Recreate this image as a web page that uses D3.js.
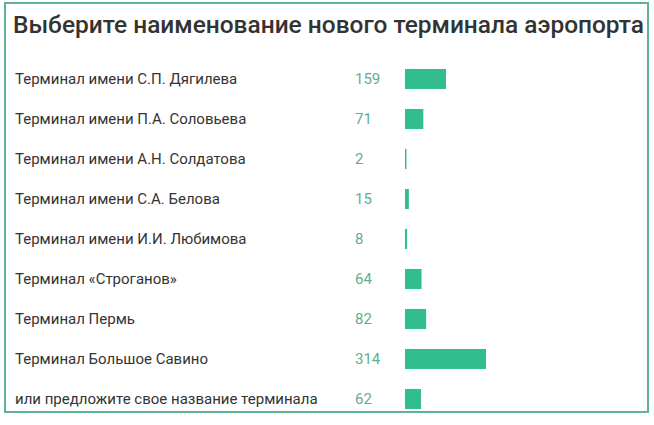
<!DOCTYPE html>
<html>
<head>
<meta charset="utf-8">
<script src="https://cdn.jsdelivr.net/npm/d3@7"></script>
<style>
  body { margin: 0; background: #fff; }
  text { font-family: Roboto, "Open Sans", sans-serif; }
</style>
</head>
<body>
<svg id="chart" width="654" height="425"></svg>
<script>
// chart data
const labels = [
  "Терминал имени С.П. Дягилева",
  "Терминал имени П.А. Соловьева",
  "Терминал имени А.Н. Солдатова",
  "Терминал имени С.А. Белова",
  "Терминал имени И.И. Любимова",
  "Терминал «Строганов»",
  "Терминал Пермь",
  "Терминал Большое Савино",
  "или предложите свое название терминала"
];
const votes = [159, 71, 2, 15, 8, 64, 82, 314, 62];
const title = "Выберите наименование нового терминала аэропорта";

const svg = d3.select("#chart");

svg.append("rect")
  .attr("x", 5).attr("y", 3).attr("width", 643).attr("height", 409)
  .attr("fill", "none").attr("stroke", "#5db394").attr("stroke-width", 2);

svg.append("text")
  .attr("x", 13).attr("y", 33)
  .attr("font-size", 24).attr("font-weight", 500).attr("fill", "#333")
  .attr("textLength", 631).attr("lengthAdjust", "spacingAndGlyphs")
  .text(title);

const y = d3.scaleBand().domain(labels).range([59, 419]).paddingInner(0.5).paddingOuter(0.25);
const x = d3.scaleLinear().domain([0, 314]).range([0, 81]);

const row = svg.selectAll("g.row").data(labels).join("g")
  .attr("class", "row")
  .attr("transform", d => `translate(0,${y(d)})`);

row.append("text")
  .attr("x", 15).attr("y", y.bandwidth() / 2).attr("dy", "0.35em")
  .attr("font-size", 15).attr("fill", "#333")
  .text(d => d);

row.append("text")
  .attr("x", 355).attr("y", y.bandwidth() / 2).attr("dy", "0.35em")
  .attr("font-size", 15).attr("fill", "#5fae8c")
  .text((d, i) => votes[i]);

row.append("rect")
  .attr("x", 405).attr("y", 0)
  .attr("width", (d, i) => Math.max(1.5, x(votes[i])))
  .attr("height", y.bandwidth())
  .attr("fill", "#33bd8e");
</script>
</body>
</html>
